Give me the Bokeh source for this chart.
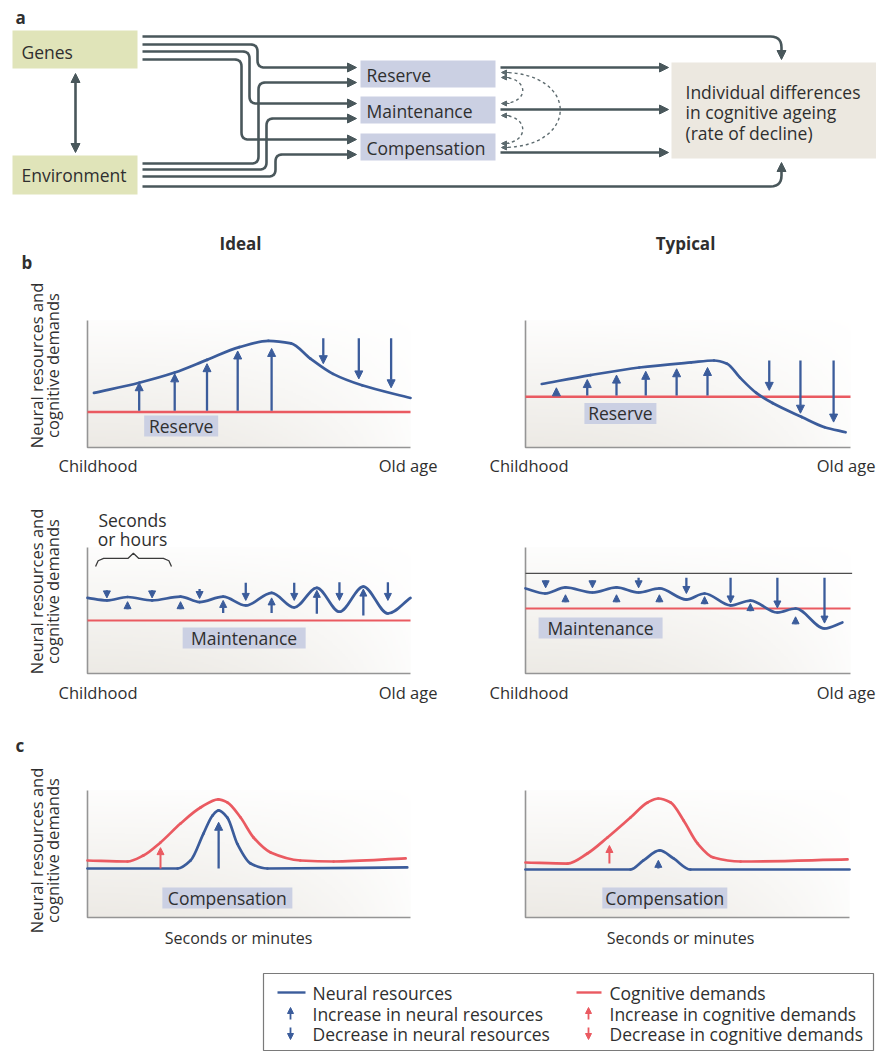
import numpy as np
from bokeh.plotting import figure
from bokeh.models import Range1d, Arrow, NormalHead, ColumnDataSource
from bokeh.embed import file_html
from bokeh.resources import INLINE
from bokeh.core.properties import value

FONT = "Open Sans"
BLUE = "#3b5c9b"
RED = "#ea5a61"
SLATE = "#49575b"
AXIS = "#959595"
TEXT = "#2f2f2f"
LAV = "#cbd0e3"
OLIVE = "#e0e4b9"
BEIGE = "#ece8e0"

# ------------------------------------------------------------------ data
# panel a (diagram)
a_sources = ["Genes", "Environment"]
a_mechanisms = ["Reserve", "Maintenance", "Compensation"]
a_outcome = ["Individual differences", "in cognitive ageing", "(rate of decline)"]
col_titles = ["Ideal", "Typical"]

# panel b - reserve (x: 0 = childhood, 100 = old age; y: 0-100 arbitrary)
ideal_res_x = [2, 16, 27, 37, 47, 56, 63, 69, 76, 85, 100]
ideal_res_y = [43, 51, 59, 69, 79, 84, 82, 70, 58, 49, 39]
ideal_res_demand = 28
ideal_res_up_x = [16, 27, 37, 46.5, 57]
ideal_res_up_to = [51, 58, 66, 76, 78]
ideal_res_down_x = [73, 84, 94]
ideal_res_down_from = [86, 86, 86]
ideal_res_down_to = [66, 54, 47]

typ_res_x = [5, 20, 35, 51, 58, 62, 66, 71, 76, 85, 92, 98.5]
typ_res_y = [50, 57, 63, 67, 68.5, 66, 55, 43, 35, 24, 16, 12]
typ_res_demand = 40
typ_res_up_x = [9.5, 19, 28, 37, 46.5, 56]
typ_res_up_to = [47, 53.5, 57, 60, 62, 63]
typ_res_down_x = [75, 84.6, 94.8]
typ_res_down_from = [68.5, 68.5, 68.5]
typ_res_down_to = [45, 27, 20]

# panel b - maintenance
ideal_mnt_x = [0, 6, 12.4, 20, 28.8, 34.7, 42, 49, 57, 64, 71, 78, 85.4, 93, 100]
ideal_mnt_y = [60, 58, 60.7, 58, 61, 56.7, 61, 54, 64, 52.4, 68, 49, 69, 47.6, 60]
ideal_mnt_demand = 42
ideal_mnt_down_x = [6, 20, 34.7, 49, 64, 78, 93]
ideal_mnt_down_from = [66, 66, 67, 72, 72, 72.5, 72.5]
ideal_mnt_down_to = [60, 60, 59.5, 58, 58, 58, 58]
ideal_mnt_up_x = [12.4, 28.8, 42, 57, 71, 85.4]
ideal_mnt_up_from = [51, 51, 48, 48, 47.5, 46]
ideal_mnt_up_to = [57, 57, 58, 60, 66, 67]

typ_mnt_x = [0, 6, 12.3, 20.6, 28, 34.8, 41.2, 49.5, 55.1, 63.1, 69.2, 77.5, 83.1, 92, 97.5]
typ_mnt_y = [67.5, 63.5, 68.3, 64.3, 68.3, 64.3, 67.5, 58.7, 63.5, 54, 57.9, 48.4, 51.6, 35.7, 40.5]
typ_mnt_demand = 51.6
typ_mnt_ceiling = 79.4
typ_mnt_down_x = [6.2, 20.6, 34.8, 49.5, 63.1, 77.5, 92]
typ_mnt_down_from = [74, 74, 76, 76, 76, 76, 76]
typ_mnt_down_to = [68, 68, 68, 63.5, 56, 52, 40]
typ_mnt_up_x = [12.3, 28, 41.2, 55.1, 69.2, 83.1]
typ_mnt_up_from = [56.5, 56.5, 56.5, 55, 49.5, 39]
typ_mnt_up_to = [62.5, 62.5, 62.5, 61, 55.5, 45]

# panel c - compensation (x: seconds or minutes)
ideal_cmp_dem_x = [0, 12.4, 17.3, 22.6, 28.8, 35, 40.5, 43.3, 47.4, 51.4, 56.7, 65.9, 76.2, 98.5]
ideal_cmp_dem_y = [44.9, 44.1, 48.8, 59.1, 74, 86.6, 93, 90.6, 78.7, 63, 51.2, 44.9, 44.1, 46.5]
ideal_cmp_res_x = [0, 27.9, 31.9, 35.9, 38.7, 40.6, 43.3, 46.4, 50.5, 55.7, 99]
ideal_cmp_res_y = [38.6, 38.6, 44.9, 66.1, 80.3, 84.3, 78.7, 57.9, 42.5, 38.6, 39.4]
ideal_cmp_dem_up = (22.6, 38.6, 55)
ideal_cmp_res_up = (40.6, 38.6, 75)

typ_cmp_dem_x = [0, 13, 19.1, 25.3, 32.4, 37.7, 41, 44.8, 48.8, 53.1, 58, 66.4, 99.4]
typ_cmp_dem_y = [43.3, 42.5, 50.4, 63, 78.7, 90.6, 93.7, 90.6, 76.4, 58.3, 47.2, 44.1, 45.7]
typ_cmp_res_x = [0, 32.4, 36.4, 41.4, 45.7, 50.9, 100]
typ_cmp_res_y = [37.8, 37.8, 44.9, 52.8, 46.5, 37.8, 37.8]
typ_cmp_dem_up = (25.9, 42.5, 56.7)
typ_cmp_res_up = (41, 38.5, 45)

legend_left = ["Neural resources", "Increase in neural resources", "Decrease in neural resources"]
legend_right = ["Cognitive demands", "Increase in cognitive demands", "Decrease in cognitive demands"]

# ------------------------------------------------------------------ figure
X0, X1, Y0, Y1 = 0, 876, 0, 1054
p = figure(width=876, height=1054, x_range=Range1d(X0, X1), y_range=Range1d(Y1, Y0),
           output_backend="svg", toolbar_location=None, min_border=0,
           x_axis_location=None, y_axis_location=None)
p.xgrid.visible = False
p.ygrid.visible = False
p.outline_line_color = None
p.background_fill_color = "white"
p.border_fill_color = "white"


def txt(x, y, s, size="17.5px", align="left", bold=False, angle=0, color=TEXT, **kw):
    p.text(x=[x], y=[y], text=[s], text_font=value(FONT), text_font_size=size,
           text_align=align, text_baseline="middle",
           text_font_style="bold" if bold else "normal", angle=angle,
           text_color=color, **kw)


def head(size, color):
    return NormalHead(size=size, fill_color=color, line_color=color, line_width=1)


def route(pts, arrow=True, r=7, color=SLATE, width=2.6, hs=9):
    pts = [np.array(q, float) for q in pts]
    xs, ys = [pts[0][0]], [pts[0][1]]
    for i in range(1, len(pts) - 1):
        a_, b_, c_ = pts[i - 1], pts[i], pts[i + 1]
        l1 = np.linalg.norm(b_ - a_)
        l2 = np.linalg.norm(c_ - b_)
        rr = min(r, l1 / 2, l2 / 2)
        s = b_ - (b_ - a_) / l1 * rr
        e = b_ + (c_ - b_) / l2 * rr
        for t in np.linspace(0, 1, 8):
            q = (1 - t) ** 2 * s + 2 * (1 - t) * t * b_ + t ** 2 * e
            xs.append(q[0]); ys.append(q[1])
    end, prev = pts[-1], pts[-2]
    d = (end - prev) / np.linalg.norm(end - prev)
    stop = end - d * hs * 0.6 if arrow else end
    xs.append(stop[0]); ys.append(stop[1])
    p.line(xs, ys, line_color=color, line_width=width, line_join="round")
    if arrow:
        st = end - d * hs
        p.add_layout(Arrow(end=head(hs, color), x_start=st[0], y_start=st[1],
                           x_end=end[0], y_end=end[1], line_alpha=0))


# ------------------------------------------------------------------ panel a
txt(15, 17, "a", size="17px", bold=True)
p.quad(left=[12, 12], right=[137, 137], top=[30, 155], bottom=[68, 194],
       fill_color=OLIVE, line_color=None)
txt(21, 51, a_sources[0])
txt(21, 174, a_sources[1])
p.add_layout(Arrow(start=head(9, SLATE), end=head(9, SLATE), x_start=75, y_start=73,
                   x_end=75, y_end=152, line_color=SLATE, line_width=2.6))

mech_top = [60, 96, 133]
mech_bot = [87, 123, 160]
p.quad(left=[360] * 3, right=[495] * 3, top=mech_top, bottom=mech_bot,
       fill_color=LAV, line_color=None)
for name, t, b in zip(a_mechanisms, mech_top, mech_bot):
    txt(366, (t + b) / 2 + 1, name)

p.quad(left=[671], right=[880], top=[62], bottom=[158], fill_color=BEIGE, line_color=None)
for k, line in enumerate(a_outcome):
    txt(685, 91 + 20.5 * k, line)

route([(142, 36), (781, 36), (781, 59)], r=11)
route([(142, 44), (257, 44), (257, 67), (356, 67)])
route([(142, 51), (249, 51), (249, 103), (356, 103)])
route([(142, 59), (241, 59), (241, 139), (356, 139)])
route([(142, 163), (258, 163), (258, 82), (356, 82)])
route([(142, 169), (266, 169), (266, 118), (356, 118)])
route([(142, 176), (275, 176), (275, 154), (356, 154)])
route([(142, 186), (781, 186), (781, 162)], r=11)
for yy in [67, 109, 152]:
    route([(500, yy), (668, yy)])

p.bezier(x0=[502, 502, 502], y0=[72, 77, 115], x1=[502, 502, 502], y1=[147, 103, 143],
         cx0=[579, 529, 529], cy0=[72, 77, 115], cx1=[579, 529, 529], cy1=[147, 103, 143],
         line_color="#5d6b6f", line_width=1.4, line_dash="3 3")
dh = ColumnDataSource(dict(xs=[509] * 6, xe=[501] * 6, y=[72, 77, 103, 115, 143, 147]))
p.add_layout(Arrow(end=head(5, "#5d6b6f"), x_start="xs", y_start="y", x_end="xe", y_end="y",
                   source=dh, line_color="#5d6b6f", line_width=1.2))

# ------------------------------------------------------------------ panels b, c
def make_grad(nx=200, ny=80):
    u = np.linspace(0, 1, nx)[None, :]
    v = np.linspace(0, 1, ny)[:, None]
    a = 0.62 * (1 - 0.9 * v) * (1 - 0.85 * u ** 2)
    base = np.array([225, 221, 213], float)
    img = np.zeros((ny, nx), dtype=np.uint32)
    view = img.view(dtype=np.uint8).reshape((ny, nx, 4))
    for k in range(3):
        view[:, :, k] = np.round(255 - (255 - base[k]) * a).astype(np.uint8)
    view[:, :, 3] = 255
    return img


GRAD = make_grad()


def add_panel(name, px0, px1, ptop, pbot):
    sx = (px1 - px0) / 100.0
    sy = (pbot - ptop) / 100.0
    p.extra_x_ranges[name] = Range1d(-(px0 - X0) / sx, (X1 - px0) / sx)
    p.extra_y_ranges[name] = Range1d(-(Y1 - pbot) / sy, (pbot - Y0) / sy)
    kw = dict(x_range_name=name, y_range_name=name)
    p.image_rgba(image=[GRAD], x=0, y=0, dw=100, dh=100, **kw)
    p.line([0, 0, 100], [100, 0, 0], line_color=AXIS, line_width=1.6, **kw)
    return kw


def pchip_slopes(x, y):
    h = np.diff(x)
    dl = np.diff(y) / h
    n = len(x)
    m = np.zeros(n)
    m[0], m[-1] = dl[0], dl[-1]
    for k in range(1, n - 1):
        if dl[k - 1] * dl[k] <= 0:
            m[k] = 0.0
        else:
            w1 = 2 * h[k] + h[k - 1]
            w2 = h[k] + 2 * h[k - 1]
            m[k] = (w1 + w2) / (w1 / dl[k - 1] + w2 / dl[k])
    return m


def curve(xs, ys, color, kw, width=2.7):
    x = np.asarray(xs, float)
    y = np.asarray(ys, float)
    m = pchip_slopes(x, y)
    h = np.diff(x)
    p.bezier(x0=x[:-1], y0=y[:-1], x1=x[1:], y1=y[1:],
             cx0=x[:-1] + h / 3, cy0=y[:-1] + m[:-1] * h / 3,
             cx1=x[1:] - h / 3, cy1=y[1:] - m[1:] * h / 3,
             line_color=color, line_width=width, line_cap="round", **kw)


def arrows(xs, y0, y1, color, kw, size=8, width=2.3):
    src = ColumnDataSource(dict(xs=list(xs), y0=list(y0), y1=list(y1)))
    p.add_layout(Arrow(end=head(size, color), x_start="xs", y_start="y0", x_end="xs", y_end="y1",
                       source=src, line_color=color, line_width=width, **kw))


def tag(x, y, s, wpx, kw, hpx=21):
    p.rect(x=[x], y=[y], width=wpx, height=hpx, width_units="screen", height_units="screen",
           fill_color=LAV, line_color=None, **kw)
    p.text(x=[x], y=[y], text=[s], text_font=value(FONT), text_font_size="17.5px",
           text_align="center", text_baseline="middle", text_color=TEXT, **kw)


def hline(y, color, kw, width=2.6):
    p.line([0, 100], [y, y], line_color=color, line_width=width, **kw)


def ylabel(yc):
    txt(36, yc, "Neural resources and", size="16.5px", align="center", angle=np.pi / 2)
    txt(52, yc, "cognitive demands", size="16.5px", align="center", angle=np.pi / 2)


txt(240, 243, col_titles[0], size="17px", align="center", bold=True)
txt(685, 243, col_titles[1], size="17px", align="center", bold=True)
txt(21, 262, "b", size="17px", bold=True)
txt(15, 745, "c", size="17px", bold=True)

# Ideal reserve
kw = add_panel("ir", 87, 410, 320, 447)
hline(ideal_res_demand, RED, kw)
curve(ideal_res_x, ideal_res_y, BLUE, kw)
arrows(ideal_res_up_x, [ideal_res_demand + 1] * 5, ideal_res_up_to, BLUE, kw)
arrows(ideal_res_down_x, ideal_res_down_from, ideal_res_down_to, BLUE, kw)
tag(29, 17, "Reserve", 74, kw)
ylabel(365)
txt(58, 465, "Childhood", size="16.5px")
txt(437, 465, "Old age", size="16.5px", align="right")

# Typical reserve
kw = add_panel("tr", 525, 850, 320, 447)
hline(typ_res_demand, RED, kw)
curve(typ_res_x, typ_res_y, BLUE, kw)
arrows(typ_res_up_x, [typ_res_demand + 1] * 6, typ_res_up_to, BLUE, kw)
arrows(typ_res_down_x, typ_res_down_from, typ_res_down_to, BLUE, kw)
tag(29.2, 26.8, "Reserve", 72, kw)
txt(489, 465, "Childhood", size="16.5px")
txt(875, 465, "Old age", size="16.5px", align="right")

# Ideal maintenance
kw = add_panel("im", 87, 410, 547, 673)
hline(ideal_mnt_demand, RED, kw, width=2.0)
curve(ideal_mnt_x, ideal_mnt_y, BLUE, kw)
arrows(ideal_mnt_down_x, ideal_mnt_down_from, ideal_mnt_down_to, BLUE, kw, size=7)
arrows(ideal_mnt_up_x, ideal_mnt_up_from, ideal_mnt_up_to, BLUE, kw, size=7)
tag(48.5, 28.2, "Maintenance", 123, kw)
p.line([2.5, 3.3, 5, 12.5, 14.2, 15.9, 23.5, 25.2, 26], [85, 89.5, 91.3, 91.3, 95.5, 91.3, 91.3, 89.5, 85],
       line_color="#3a3a3a", line_width=1.3, **kw)
txt(132, 519, "Seconds", size="17.5px", align="center")
txt(132, 538, "or hours", size="17.5px", align="center")
ylabel(591)
txt(58, 692, "Childhood", size="16.5px")
txt(437, 692, "Old age", size="16.5px", align="right")

# Typical maintenance
kw = add_panel("tm", 525, 850, 547, 673)
p.line([0, 100.5], [typ_mnt_ceiling] * 2, line_color="#4d4d4d", line_width=1.3, **kw)
hline(typ_mnt_demand, RED, kw, width=2.0)
curve(typ_mnt_x, typ_mnt_y, BLUE, kw)
arrows(typ_mnt_down_x, typ_mnt_down_from, typ_mnt_down_to, BLUE, kw, size=7)
arrows(typ_mnt_up_x, typ_mnt_up_from, typ_mnt_up_to, BLUE, kw, size=7)
tag(23.1, 36.1, "Maintenance", 124, kw)
txt(489, 692, "Childhood", size="16.5px")
txt(875, 692, "Old age", size="16.5px", align="right")

# Ideal compensation
kw = add_panel("ic", 87, 410, 790, 917)
curve(ideal_cmp_dem_x, ideal_cmp_dem_y, RED, kw)
curve(ideal_cmp_res_x, ideal_cmp_res_y, BLUE, kw)
arrows([ideal_cmp_dem_up[0]], [ideal_cmp_dem_up[1]], [ideal_cmp_dem_up[2]], RED, kw, size=7, width=2)
arrows([ideal_cmp_res_up[0]], [ideal_cmp_res_up[1]], [ideal_cmp_res_up[2]], BLUE, kw)
tag(43.3, 15.4, "Compensation", 130, kw)
ylabel(850)
txt(238, 937, "Seconds or minutes", size="16px", align="center")

# Typical compensation
kw = add_panel("tc", 525, 849, 790, 917)
curve(typ_cmp_dem_x, typ_cmp_dem_y, RED, kw)
curve(typ_cmp_res_x, typ_cmp_res_y, BLUE, kw)
arrows([typ_cmp_dem_up[0]], [typ_cmp_dem_up[1]], [typ_cmp_dem_up[2]], RED, kw, size=7, width=2)
arrows([typ_cmp_res_up[0]], [typ_cmp_res_up[1]], [typ_cmp_res_up[2]], BLUE, kw, size=7)
tag(43, 15.4, "Compensation", 125, kw)
txt(680, 937, "Seconds or minutes", size="16px", align="center")

# ------------------------------------------------------------------ legend
p.quad(left=[263], right=[873], top=[973], bottom=[1050], fill_color="white",
       line_color="#7a7a7a", line_width=1.2)
rows = [992, 1013, 1033]
p.line([277, 305], [rows[0]] * 2, line_color=BLUE, line_width=2.4)
p.line([576, 601], [rows[0]] * 2, line_color=RED, line_width=2.4)
for s, yy in zip(legend_left, rows):
    txt(312, yy, s)
for s, yy in zip(legend_right, rows):
    txt(609, yy, s)
leg = ColumnDataSource(dict(x=[290, 290], y0=[1019, 1027], y1=[1007, 1039]))
p.add_layout(Arrow(end=head(6, BLUE), x_start="x", y_start="y0", x_end="x", y_end="y1",
                   source=leg, line_color=BLUE, line_width=1.8))
leg2 = ColumnDataSource(dict(x=[588, 588], y0=[1019, 1027], y1=[1007, 1039]))
p.add_layout(Arrow(end=head(6, RED), x_start="x", y_start="y0", x_end="x", y_end="y1",
                   source=leg2, line_color=RED, line_width=1.8))

open("out.html", "w").write(file_html(p, INLINE))
